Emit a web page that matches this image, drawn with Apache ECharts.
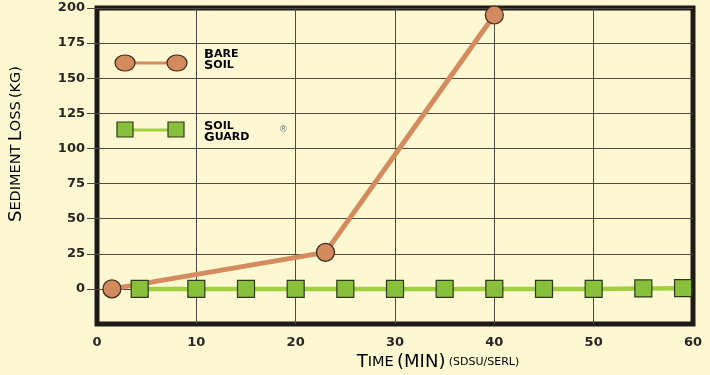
<!DOCTYPE html>
<html>
<head>
<meta charset="utf-8">
<script src="https://cdn.jsdelivr.net/npm/echarts@6/dist/echarts.min.js"></script>
<style>
  html, body { margin: 0; padding: 0; background: #fdf8d2; }
  #chart { width: 710px; height: 375px; }
</style>
</head>
<body>
<div id="chart"></div>
<script>
// ---- data ----
const seriesNames = ['Bare Soil', 'Soil Guard'];
const bareSoilTime = [1.5, 23, 40];
const bareSoilLoss = [0, 26, 195];
const soilGuardTime = [4.3, 10, 15, 20, 25, 30, 35, 40, 45, 50, 55, 59];
const soilGuardLoss = [0, 0, 0, 0, 0, 0, 0, 0, 0, 0, 0.3, 0.5];
const yTickValues = [0, 25, 50, 75, 100, 125, 150, 175, 200];
const xTickValues = [0, 10, 20, 30, 40, 50, 60];
const xInnerTicks = [10, 20, 30, 40, 50];

const bareData = bareSoilTime.map((t, i) => [t, bareSoilLoss[i]]);
const guardData = soilGuardTime.map((t, i) => [t, soilGuardLoss[i]]);

const BROWN = '#d38a5c';
const BROWN_LINE = '#d48b5e';
const GREEN = '#88bf3b';
const GREEN_LINE = '#a2cf3c';
const DARK = '#2a2522';
const GRID = '#4e4a42';
const FONT = 'DejaVu Sans';

const chart = echarts.init(document.getElementById('chart'), null, { renderer: 'canvas' });

const richCaps = {
  b: { fontFamily: FONT, fontSize: 18, color: DARK, fontWeight: 'normal' },
  s: { fontFamily: FONT, fontSize: 14.5, color: DARK, fontWeight: 'normal' },
  t: { fontFamily: FONT, fontSize: 11, color: DARK, fontWeight: 'normal' }
};
const legendRich = {
  b: { fontFamily: FONT, fontSize: 13, color: DARK, fontWeight: 'bold', lineHeight: 11 },
  s: { fontFamily: FONT, fontSize: 11, color: DARK, fontWeight: 'bold', lineHeight: 11 },
  r: { fontFamily: FONT, fontSize: 8, color: '#777', lineHeight: 11 }
};

chart.setOption({
  backgroundColor: '#fdf8d2',
  animation: false,
  grid: {
    left: 97, right: 17, top: 8, bottom: 51,
    show: true, borderColor: '#1e1a17', borderWidth: 5, backgroundColor: 'transparent'
  },
  xAxis: {
    type: 'value', min: 0, max: 60, interval: 10,
    axisLine: { show: false },
    axisTick: { show: true, length: 8, customValues: xInnerTicks, lineStyle: { color: GRID, width: 1 } },
    axisLabel: {
      customValues: xTickValues, margin: 12,
      fontFamily: FONT, fontSize: 13, color: DARK, fontWeight: 'bold'
    },
    splitLine: { show: true, lineStyle: { color: GRID, width: 1 } }
  },
  yAxis: {
    type: 'value', min: -25, max: 200, interval: 25,
    axisLine: { show: false },
    axisTick: { show: true, length: 10, customValues: yTickValues, lineStyle: { color: GRID, width: 1 } },
    axisLabel: {
      customValues: yTickValues, margin: 12,
      fontFamily: FONT, fontSize: 13, color: DARK, fontWeight: 'bold'
    },
    splitLine: { show: true, lineStyle: { color: GRID, width: 1 } }
  },
  series: [
    {
      name: seriesNames[0], type: 'line', data: bareData,
      symbol: 'circle', symbolSize: 18,
      lineStyle: { color: BROWN_LINE, width: 5 },
      itemStyle: { color: BROWN, borderColor: '#3b2a1f', borderWidth: 1.2 },
      z: 3
    },
    {
      name: seriesNames[1], type: 'line', data: guardData,
      symbol: 'rect', symbolSize: 17,
      lineStyle: { color: GREEN_LINE, width: 4.5 },
      itemStyle: { color: GREEN, borderColor: '#2e3a1b', borderWidth: 1.2 },
      z: 4
    }
  ],
  graphic: [
    // legend: Bare Soil
    { type: 'line', shape: { x1: 125, y1: 63, x2: 177, y2: 63 }, style: { stroke: BROWN_LINE, lineWidth: 3 }, z: 10 },
    { type: 'ellipse', shape: { cx: 125, cy: 63, rx: 10, ry: 8 }, style: { fill: BROWN, stroke: '#3b2a1f', lineWidth: 1.2 }, z: 11 },
    { type: 'ellipse', shape: { cx: 177, cy: 63, rx: 10, ry: 8 }, style: { fill: BROWN, stroke: '#3b2a1f', lineWidth: 1.2 }, z: 11 },
    { type: 'text', x: 204, y: 49, style: { text: '{b|B}{s|ARE}\n{b|S}{s|OIL}', rich: legendRich }, z: 11 },
    // legend: Soil Guard
    { type: 'line', shape: { x1: 125, y1: 130, x2: 176, y2: 130 }, style: { stroke: GREEN_LINE, lineWidth: 3 }, z: 10 },
    { type: 'rect', shape: { x: 117, y: 122, width: 16, height: 15 }, style: { fill: GREEN, stroke: '#2e3a1b', lineWidth: 1.2 }, z: 11 },
    { type: 'rect', shape: { x: 168, y: 122, width: 16, height: 15 }, style: { fill: GREEN, stroke: '#2e3a1b', lineWidth: 1.2 }, z: 11 },
    { type: 'text', x: 204, y: 121, style: { text: '{b|S}{s|OIL}\n{b|G}{s|UARD}', rich: legendRich }, z: 11 },
    { type: 'text', x: 279, y: 125, style: { text: '®', fontFamily: FONT, fontSize: 9, fill: '#777' }, z: 11 },
    // axis titles
    {
      type: 'text', x: 16, y: 144, rotation: Math.PI / 2,
      style: {
        text: '{b|S}{s|EDIMENT} {b|L}{s|OSS} {s|(KG)}', rich: richCaps,
        align: 'center', verticalAlign: 'middle'
      }
    },
    {
      type: 'text', x: 438, y: 362,
      style: {
        text: '{b|T}{s|IME} {b|(MIN)} {t|(SDSU/SERL)}', rich: richCaps,
        align: 'center', verticalAlign: 'middle'
      }
    }
  ]
});
</script>
</body>
</html>
